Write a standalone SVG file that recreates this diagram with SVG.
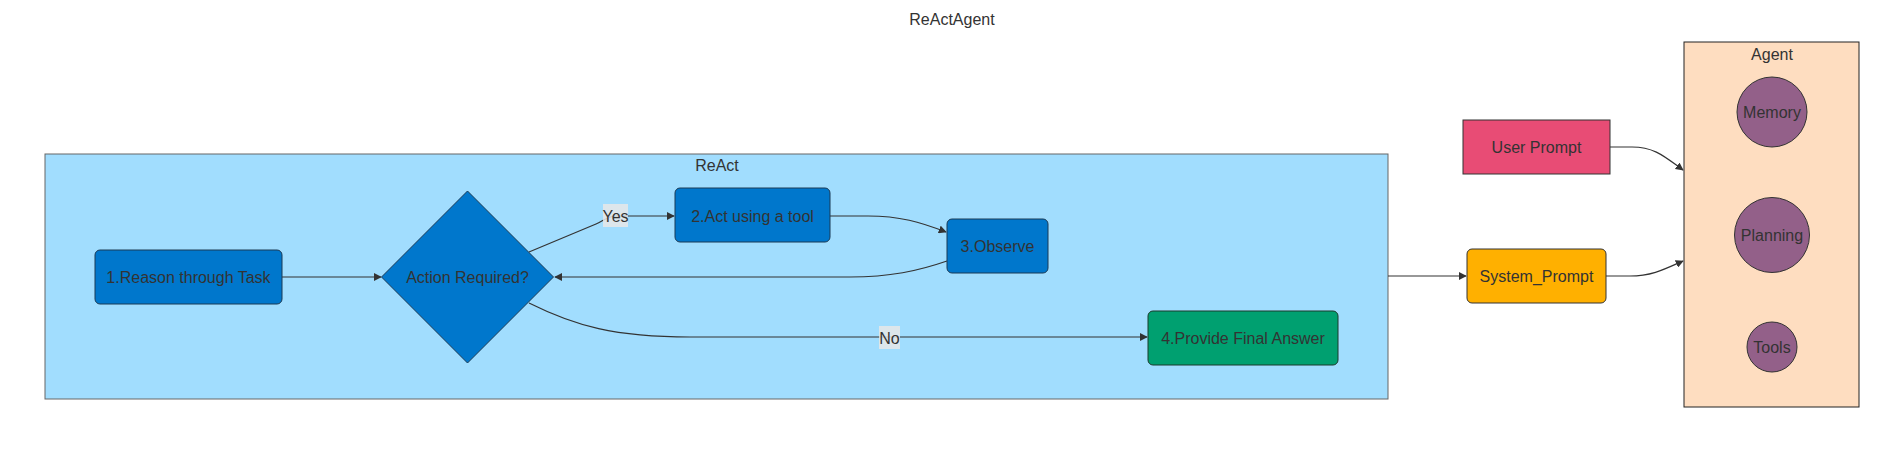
<svg xmlns="http://www.w3.org/2000/svg" width="1904" height="472" viewBox="0 0 1904 472">
<defs>
<marker id="arrow" viewBox="0 0 10 10" refX="9" refY="5" markerWidth="8" markerHeight="8" markerUnits="userSpaceOnUse" orient="auto">
<path d="M0,0 L10,5 L0,10 z" fill="#333"/>
</marker>
<style>
text{font-family:"Liberation Sans",Arial,sans-serif;font-size:16px;fill:#333;text-anchor:middle;dominant-baseline:central}
.edge{fill:none;stroke:#333;stroke-width:1.2;marker-end:url(#arrow)}
.blue{fill:#0077CC;stroke:#1B3A55;stroke-width:1}
.lbl{fill:#e8e8e8;fill-opacity:0.85}
.circ{fill:#936089;stroke:#333;stroke-width:1}
</style>
</defs>
<rect width="1904" height="472" fill="#ffffff"/>
<text x="952" y="19">ReActAgent</text>

<g id="cluster-react">
<rect x="45" y="154" width="1343" height="245" fill="#A1DDFE" stroke="#666" stroke-width="1"/>
<text x="717" y="165">ReAct</text>
</g>
<g id="cluster-agent">
<rect x="1684" y="42" width="175" height="365" fill="#FEDDC0" stroke="#222" stroke-width="1"/>
<text x="1772" y="54">Agent</text>
</g>

<g id="connectors">
<path class="edge" d="M282,277 L381,277"/>
<path class="edge" d="M529,252 L596,224 C603,221 608,216 616,216 L674,216"/>
<path class="edge" d="M830,216 L868,216 C900,216 920,222 946,232"/>
<path class="edge" d="M947,261 C918,271 890,277 850,277 L555,277"/>
<path class="edge" d="M529,303 C575,326 615,337 690,337 L1147,337"/>
<path class="edge" d="M1388,276 L1466,276"/>
<path class="edge" d="M1610,147 L1632,147 C1655,147 1665,157 1683,170"/>
<path class="edge" d="M1606,276 L1630,276 C1652,276 1665,269 1683,261"/>
<g id="label-yes"><rect class="lbl" x="603" y="204" width="25" height="23"/><text x="615.5" y="216">Yes</text></g>
<g id="label-no"><rect class="lbl" x="879" y="326" width="21" height="23"/><text x="889.5" y="338">No</text></g>
</g>

<g id="node-reason">
<rect class="blue" x="95" y="250" width="187" height="54" rx="5"/>
<text x="188.5" y="277">1.Reason through Task</text>
</g>
<g id="node-decision">
<polygon class="blue" points="467.5,191 553.5,277 467.5,363 381.5,277"/>
<text x="467.5" y="277">Action Required?</text>
</g>
<g id="node-act">
<rect class="blue" x="675" y="188" width="155" height="54" rx="5"/>
<text x="752.5" y="216">2.Act using a tool</text>
</g>
<g id="node-observe">
<rect class="blue" x="947" y="219" width="101" height="54" rx="5"/>
<text x="997.5" y="246">3.Observe</text>
</g>
<g id="node-answer">
<rect x="1148" y="311" width="190" height="54" rx="5" fill="#00A070" stroke="#1B3A2A" stroke-width="1"/>
<text x="1243" y="338">4.Provide Final Answer</text>
</g>
<g id="node-user-prompt">
<rect x="1463" y="120" width="147" height="54" fill="#E84C75" stroke="#333" stroke-width="1"/>
<text x="1536.5" y="147">User Prompt</text>
</g>
<g id="node-system-prompt">
<rect x="1467" y="249" width="139" height="54" rx="5" fill="#FFB000" stroke="#333" stroke-width="1"/>
<text x="1536.5" y="276">System_Prompt</text>
</g>
<g id="node-memory">
<circle class="circ" cx="1772" cy="112" r="35"/>
<text x="1772" y="112">Memory</text>
</g>
<g id="node-planning">
<circle class="circ" cx="1772" cy="235" r="37.5"/>
<text x="1772" y="235">Planning</text>
</g>
<g id="node-tools">
<circle class="circ" cx="1772" cy="347" r="25"/>
<text x="1772" y="347">Tools</text>
</g>
</svg>
